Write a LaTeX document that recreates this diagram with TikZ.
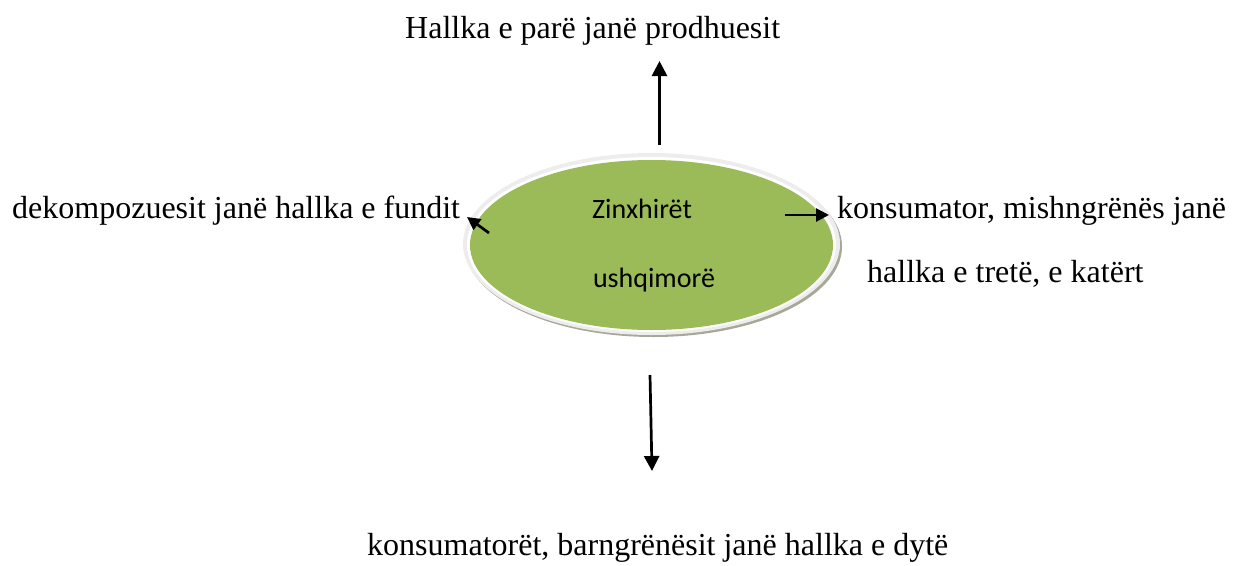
\documentclass[tikz,border=0pt]{standalone}
\usepackage{fontspec}
\setmainfont{Liberation Serif}
\newfontfamily\calib{Carlito}
\usetikzlibrary{arrows.meta,shapes.geometric}
\definecolor{olivegreen}{HTML}{9BBB59}
\definecolor{ringgray}{HTML}{EDEDED}
\definecolor{shadowgray}{HTML}{A8A898}
\tikzset{
  lbl/.style={anchor=base west, inner sep=0pt, font=\fontsize{32}{38}\selectfont},
  inlbl/.style={anchor=base, inner sep=0pt, font=\calib\fontsize{28}{34}\selectfont},
  bigarrow/.style={line width=2.7pt, -{Triangle[length=15pt,width=15pt]}},
  smallarrow/.style={line width=2.7pt, -{Triangle[length=13pt,width=13pt]}},
  chainoval/.style={ellipse, inner sep=0pt, fill=olivegreen, minimum width=363pt, minimum height=170pt},
}
\begin{document}
\begin{tikzpicture}[x=1pt,y=-1pt]
\useasboundingbox (0,0) rectangle (1233,565);
% ellipse with bevel
\fill[shadowgray] (653.5,246.5) ellipse [x radius=188.5, y radius=90.5];
\fill[ringgray] (651.5,244) ellipse [x radius=188.5, y radius=91];
\fill[white] (651.5,244.5) ellipse [x radius=184.5, y radius=87.5];
\node[chainoval] (chain) at (651.5,245) {};
\node[inlbl] (t1) at (642,218) {Zinxhirët};
\node[inlbl] (t2) at (654,287) {ushqimorë};
% labels
\node[lbl] (top) at (405,38) {Hallka e parë janë prodhuesit};
\node[lbl] (left) at (12,218) {dekompozuesit janë hallka e fundit};
\node[lbl] (right1) at (837,218) {konsumator, mishngrënës janë};
\node[lbl] (right2) at (867,282) {hallka e tretë, e katërt};
\node[lbl] (bottom) at (367,555) {konsumatorët, barngrënësit janë hallka e dytë};
% arrow coordinates
\coordinate (upS) at (659.5,145);
\coordinate (upE) at (659.5,61);
\coordinate (dnS) at (650,375);
\coordinate (dnE) at (652,471);
\coordinate (lfS) at (489,233);
\coordinate (lfE) at (467,217);
\coordinate (rtS) at (785,215);
\coordinate (rtE) at (829,215);
\draw[bigarrow] (upS) -- (upE);
\draw[bigarrow] (dnS) -- (dnE);
\draw[smallarrow] (lfS) -- (lfE);
\draw[smallarrow] (rtS) -- (rtE);
\end{tikzpicture}
\end{document}
